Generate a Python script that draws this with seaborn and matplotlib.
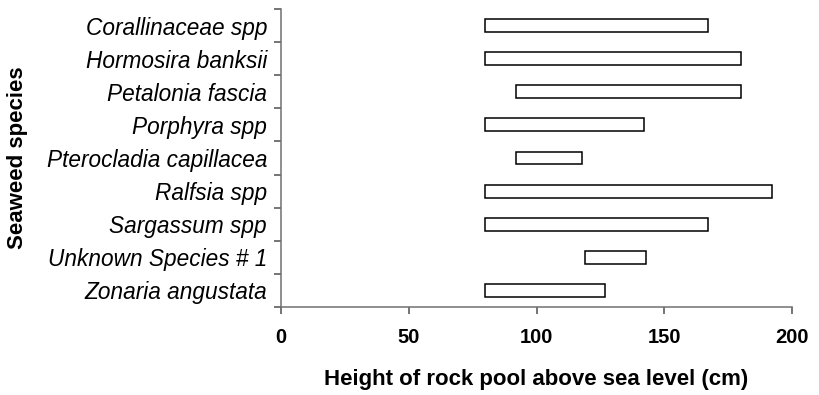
import matplotlib
matplotlib.use("Agg")
import matplotlib.pyplot as plt
import seaborn as sns
import numpy as np
import pandas as pd
from matplotlib.ticker import FixedLocator

species = ["Corallinaceae spp", "Hormosira banksii", "Petalonia fascia",
           "Porphyra spp", "Pterocladia capillacea", "Ralfsia spp",
           "Sargassum spp", "Unknown Species # 1", "Zonaria angustata"]
low = [80, 80, 92, 80, 92, 80, 80, 119, 80]
high = [167, 180, 180, 142, 118, 192, 167, 143, 127]
xticks = [0, 50, 100, 150, 200]

df = pd.DataFrame({"species": species, "low": low, "high": high})
df["span"] = df["high"] - df["low"]

sns.set_theme(style="white")
plt.rcParams["font.family"] = ["Liberation Sans", "DejaVu Sans"]
plt.rcParams["text.color"] = "black"
plt.rcParams["axes.labelcolor"] = "black"
plt.rcParams["xtick.color"] = "black"
plt.rcParams["ytick.color"] = "black"

fig = plt.figure(figsize=(8.19, 3.95), dpi=100)
ax = fig.add_axes([281 / 819, 1 - 307 / 395, (792 - 281) / 819, (307 - 9) / 395])

sns.barplot(data=df, x="span", y="species", left=df["low"].to_numpy(),
            orient="h", color="white", edgecolor="black", linewidth=1.1,
            width=0.39, ax=ax)

ax.set_xlim(0, 200)
ax.set_ylim(len(species) - 0.5, -0.5)
ax.set_xticks(xticks)
ax.set_xticklabels([str(t) for t in xticks], fontsize=14.5, fontweight="bold")
ax.set_yticks(range(len(species)))
ax.set_yticklabels(species, fontsize=16.3, style="italic")
ax.yaxis.set_minor_locator(FixedLocator(np.arange(-0.5, len(species), 1.0)))
ax.tick_params(axis="y", which="major", length=0, pad=10)
ax.tick_params(axis="y", which="minor", length=5, width=1.1, color="#505050", left=True)
ax.tick_params(axis="x", which="major", length=5, width=1.1, color="#505050",
               bottom=True, pad=10)

for s in ["top", "right"]:
    ax.spines[s].set_visible(False)
for s in ["left", "bottom"]:
    ax.spines[s].set_color("#707070")
    ax.spines[s].set_linewidth(1.1)

ax.set_xlabel("Height of rock pool above sea level (cm)", fontsize=16,
              fontweight="bold")
ax.set_ylabel("Seaweed species", fontsize=16, fontweight="bold")
ax.xaxis.set_label_coords(0.5, (307 - 369) / 298)
ax.yaxis.set_label_coords((18 - 281) / 511, 0.5)
ax.yaxis.label.set_verticalalignment("center")

fig.savefig("out.png", dpi=100)
